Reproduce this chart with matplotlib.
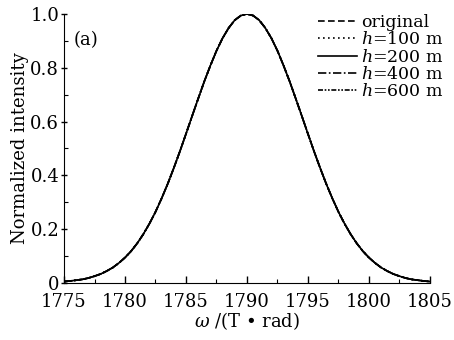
import matplotlib
matplotlib.use('Agg')
import matplotlib.pyplot as plt
from matplotlib.ticker import MultipleLocator, FixedFormatter, FixedLocator

plt.rcParams['font.family'] = ['DejaVu Serif']
plt.rcParams['mathtext.fontset'] = 'dejavuserif'

# frequency axis (T*rad) and normalized intensity
omega = [1775, 1775.5, 1776, 1776.5, 1777, 1777.5, 1778, 1778.5, 1779, 1779.5,
         1780, 1780.5, 1781, 1781.5, 1782, 1782.5, 1783, 1783.5, 1784, 1784.5,
         1785, 1785.5, 1786, 1786.5, 1787, 1787.5, 1788, 1788.5, 1789, 1789.5,
         1790, 1790.5, 1791, 1791.5, 1792, 1792.5, 1793, 1793.5, 1794, 1794.5,
         1795, 1795.5, 1796, 1796.5, 1797, 1797.5, 1798, 1798.5, 1799, 1799.5,
         1800, 1800.5, 1801, 1801.5, 1802, 1802.5, 1803, 1803.5, 1804, 1804.5,
         1805]
intensity = [0.005, 0.007, 0.010, 0.013, 0.018, 0.025, 0.033, 0.044, 0.057, 0.074,
             0.094, 0.118, 0.147, 0.181, 0.220, 0.264, 0.314, 0.368, 0.427, 0.489,
             0.554, 0.620, 0.685, 0.749, 0.808, 0.863, 0.910, 0.948, 0.977, 0.994,
             1.000, 0.994, 0.977, 0.948, 0.910, 0.863, 0.808, 0.749, 0.685, 0.620,
             0.554, 0.489, 0.427, 0.368, 0.314, 0.264, 0.220, 0.181, 0.147, 0.118,
             0.094, 0.074, 0.057, 0.044, 0.033, 0.025, 0.018, 0.013, 0.010, 0.007,
             0.005]

# all cases overlap in the figure
labels = ['original', '$h$=100 m', '$h$=200 m', '$h$=400 m', '$h$=600 m']
styles = [(0, (4, 2)), (0, (1, 2)), '-', (0, (5, 1.5, 1, 1.5)), (0, (3, 1, 1, 1, 1, 1))]

y_ticks = [0, 0.2, 0.4, 0.6, 0.8, 1.0]
y_ticklabels = ['0', '0.2', '0.4', '0.6', '0.8', '1.0']
x_ticks = [1775, 1780, 1785, 1790, 1795, 1800, 1805]

fig = plt.figure(figsize=(4.54, 3.4), dpi=100)
ax = fig.add_axes([0.141, 0.168, 0.806, 0.791])

for lab, ls in zip(labels, styles):
    ax.plot(omega, intensity, color='black', linestyle=ls, linewidth=1.2, label=lab)

ax.set_xlim(1775, 1805)
ax.set_ylim(0, 1.0)
ax.xaxis.set_major_locator(FixedLocator(x_ticks))
ax.xaxis.set_minor_locator(MultipleLocator(2.5))
ax.yaxis.set_major_locator(FixedLocator(y_ticks))
ax.yaxis.set_major_formatter(FixedFormatter(y_ticklabels))
ax.yaxis.set_minor_locator(MultipleLocator(0.1))

ax.spines['top'].set_visible(False)
ax.spines['right'].set_visible(False)
ax.tick_params(axis='both', which='major', labelsize=13, length=5, width=1)
ax.tick_params(axis='x', which='major', direction='in', pad=7)
ax.tick_params(axis='y', which='major', direction='inout', pad=1)
ax.tick_params(axis='both', which='minor', direction='in', length=3, width=0.8)

ax.set_xlabel(r'$\omega$ /(T • rad)', fontsize=13, labelpad=0)
ax.set_ylabel('Normalized intensity', fontsize=13, labelpad=1)

ax.text(0.025, 0.885, '(a)', transform=ax.transAxes, fontsize=13)

leg = ax.legend(loc='upper right', bbox_to_anchor=(1.07, 1.045), frameon=False,
                fontsize=12.5, handlelength=2.3, handletextpad=0.2,
                labelspacing=0.02, borderpad=0.2)

fig.savefig('out.png', dpi=100)
